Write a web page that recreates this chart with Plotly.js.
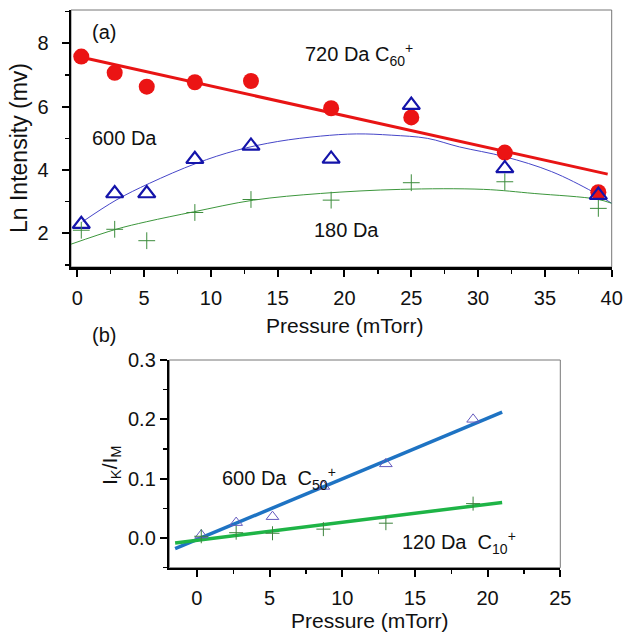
<!DOCTYPE html>
<html><head><meta charset="utf-8">
<script src="https://cdn.plot.ly/plotly-3.0.1.min.js"></script>
<style>html,body{margin:0;padding:0;background:#fff}#chart{width:629px;height:642px}</style>
</head><body><div id="chart"></div>
<script>
// ---- Panel (a) data ----
const pressureA = [0.3, 2.8, 5.2, 8.8, 13.0, 19.0, 25.0, 32.0, 39.0];
const red720 = [7.58, 7.07, 6.63, 6.77, 6.81, 5.95, 5.66, 4.55, 3.30];
const blue600 = [2.29, 3.26, 3.26, 4.34, 4.76, 4.35, 6.05, 4.05, 3.21];
const green180 = [2.10, 2.13, 1.77, 2.66, 3.07, 3.05, 3.60, 3.63, 2.79];
const redFitX = [0.4, 39.7];
const redFitY = [7.55, 3.87];
const blueCurveX = [0.4, 2.9, 5.4, 8.9, 11.9, 15.0, 18.2, 20.9, 23.5, 26.2, 28.6, 32.0, 35.5, 38.6, 40.0];
const blueCurveY = [2.37, 3.05, 3.58, 4.21, 4.62, 4.90, 5.07, 5.14, 5.10, 5.00, 4.73, 4.42, 3.95, 3.31, 2.95];
const greenCurveX = [-0.47, 2.9, 5.2, 8.7, 13.2, 18.2, 24.2, 30.4, 34.2, 38.9, 40.0];
const greenCurveY = [1.66, 2.13, 2.37, 2.68, 3.05, 3.26, 3.39, 3.39, 3.26, 3.08, 2.95];
// ---- Panel (b) data ----
const pressureB = [0.3, 2.7, 5.2, 8.7, 13.0, 19.0];
const ratio600 = [0.005, 0.026, 0.036, 0.087, 0.125, 0.200];
const ratio120 = [0.003, 0.009, 0.008, 0.015, 0.025, 0.058];
const fitBX = [-1.5, 21.0];
const fit600Y = [-0.018, 0.212];
const fit120Y = [-0.0085, 0.060];
// tick values
const yTicksA = [2, 4, 6, 8];
const xTicksA = [0, 5, 10, 15, 20, 25, 30, 35, 40];
const yTicksB = [0.0, 0.1, 0.2, 0.3];
const xTicksB = [0, 5, 10, 15, 20, 25];

const FONT = 'Liberation Sans, Arial, sans-serif';
const W = 629, H = 642;
const px = v => v / W, py = v => 1 - v / H;

const traces = [
  {x: redFitX, y: redFitY, mode: 'lines', line: {color: 'rgb(232,20,20)', width: 3}, xaxis: 'x', yaxis: 'y'},
  {x: blueCurveX, y: blueCurveY, mode: 'lines', line: {color: 'rgb(70,70,200)', width: 1, shape: 'spline'}, xaxis: 'x', yaxis: 'y'},
  {x: greenCurveX, y: greenCurveY, mode: 'lines', line: {color: 'rgb(60,150,60)', width: 1, shape: 'spline'}, xaxis: 'x', yaxis: 'y'},
  {x: pressureA, y: red720, mode: 'markers', marker: {symbol: 'circle', size: 16, color: 'rgb(235,20,20)'}, xaxis: 'x', yaxis: 'y'},
  {x: pressureA, y: blue600, mode: 'markers', marker: {symbol: 'triangle-up-open', size: 15, color: 'rgb(20,20,170)', line: {width: 2.2, color: 'rgb(20,20,170)'}}, xaxis: 'x', yaxis: 'y'},
  {x: pressureA, y: green180, mode: 'markers', marker: {symbol: 'cross-thin-open', size: 12, color: 'rgb(60,140,60)', line: {width: 1, color: 'rgb(60,140,60)'}}, xaxis: 'x', yaxis: 'y'},
  {x: fitBX, y: fit600Y, mode: 'lines', line: {color: 'rgb(30,115,195)', width: 3.5}, xaxis: 'x2', yaxis: 'y2'},
  {x: fitBX, y: fit120Y, mode: 'lines', line: {color: 'rgb(30,180,70)', width: 3.5}, xaxis: 'x2', yaxis: 'y2'},
  {x: pressureB, y: ratio600, mode: 'markers', marker: {symbol: 'triangle-up-open', size: 11, color: 'rgb(100,90,190)', line: {width: 1, color: 'rgb(100,90,190)'}}, xaxis: 'x2', yaxis: 'y2'},
  {x: pressureB, y: ratio120, mode: 'markers', marker: {symbol: 'cross-thin-open', size: 10, color: 'rgb(60,130,60)', line: {width: 1, color: 'rgb(60,130,60)'}}, xaxis: 'x2', yaxis: 'y2'}
];

const axBase = {
  showline: true, linecolor: '#000', linewidth: 2.5, mirror: false,
  ticks: 'outside', ticklen: 7, tickwidth: 2, tickcolor: '#000',
  showgrid: false, zeroline: false, tickfont: {family: FONT, size: 20, color: '#111'},
  fixedrange: true
};
const minorTick = d => ({dtick: d, ticks: 'outside', ticklen: 4, tickwidth: 1.5, tickcolor: '#000'});

const layout = {
  width: W, height: H, margin: {l: 0, r: 0, t: 0, b: 0},
  paper_bgcolor: '#fff', plot_bgcolor: '#fff', showlegend: false,
  font: {family: FONT, color: '#111'},
  xaxis: Object.assign({}, axBase, {domain: [px(71), px(611.7)], range: [-0.47, 40], anchor: 'y',
    tickvals: xTicksA, ticklabelstandoff: 4, minor: minorTick(2.5)}),
  yaxis: Object.assign({}, axBase, {domain: [py(267), py(10)], range: [0.94, 9.05], anchor: 'x',
    tickvals: yTicksA, ticklabelstandoff: 9, minor: minorTick(1)}),
  xaxis2: Object.assign({}, axBase, {domain: [px(169.3), px(560.3)], range: [-1.9, 25], anchor: 'y2',
    tickvals: xTicksB, ticklabelstandoff: 4, minor: minorTick(2.5)}),
  yaxis2: Object.assign({}, axBase, {domain: [py(567.7), py(360)], range: [-0.05, 0.3], anchor: 'x2',
    tickvals: yTicksB, tickformat: '.1f', ticklabelstandoff: 0, minor: minorTick(0.05)}),
  shapes: [
    {type: 'rect', xref: 'x domain', yref: 'y domain', x0: 0, x1: 1, y0: 0, y1: 1, line: {color: '#777', width: 1}, layer: 'below'},
    {type: 'rect', xref: 'x2 domain', yref: 'y2 domain', x0: 0, x1: 1, y0: 0, y1: 1, line: {color: '#777', width: 1}, layer: 'below'}
  ],
  annotations: [
    {text: '(a)', xref: 'x', yref: 'y', x: 0.95, y: 8.36, xanchor: 'left', yanchor: 'middle', showarrow: false, font: {size: 20}},
    {text: '720 Da C<sub>60</sub><sup>+</sup>', xref: 'x', yref: 'y', x: 16.9, y: 7.66, xanchor: 'left', yanchor: 'middle', showarrow: false, font: {size: 20}},
    {text: '600 Da', xref: 'x', yref: 'y', x: 0.95, y: 5.01, xanchor: 'left', yanchor: 'middle', showarrow: false, font: {size: 20}},
    {text: '180 Da', xref: 'x', yref: 'y', x: 17.6, y: 2.1, xanchor: 'left', yanchor: 'middle', showarrow: false, font: {size: 20}},
    {text: 'Ln Intensity (mv)', xref: 'paper', yref: 'paper', x: px(19), y: py(148), xanchor: 'center', yanchor: 'middle', textangle: -90, showarrow: false, font: {size: 23}},
    {text: 'Pressure (mTorr)', xref: 'paper', yref: 'paper', x: px(345), y: py(326), xanchor: 'center', yanchor: 'middle', showarrow: false, font: {size: 21}},
    {text: '(b)', xref: 'paper', yref: 'paper', x: px(90), y: py(335), xanchor: 'left', yanchor: 'middle', showarrow: false, font: {size: 20}},
    {text: '600 Da  C<sub>50</sub><sup>+</sup>', xref: 'x2', yref: 'y2', x: 1.58, y: 0.101, xanchor: 'left', yanchor: 'middle', showarrow: false, font: {size: 20}},
    {text: '120 Da  C<sub>10</sub><sup>+</sup>', xref: 'x2', yref: 'y2', x: 13.96, y: -0.008, xanchor: 'left', yanchor: 'middle', showarrow: false, font: {size: 20}},
    {text: 'I<sub>K</sub>/I<sub>M</sub>', xref: 'paper', yref: 'paper', x: px(111), y: py(465), xanchor: 'center', yanchor: 'middle', textangle: -90, showarrow: false, font: {size: 21}},
    {text: 'Pressure (mTorr)', xref: 'paper', yref: 'paper', x: px(370), y: py(620), xanchor: 'center', yanchor: 'middle', showarrow: false, font: {size: 21}}
  ]
};

Plotly.newPlot('chart', traces, layout, {displayModeBar: false, staticPlot: true});
</script></body></html>
